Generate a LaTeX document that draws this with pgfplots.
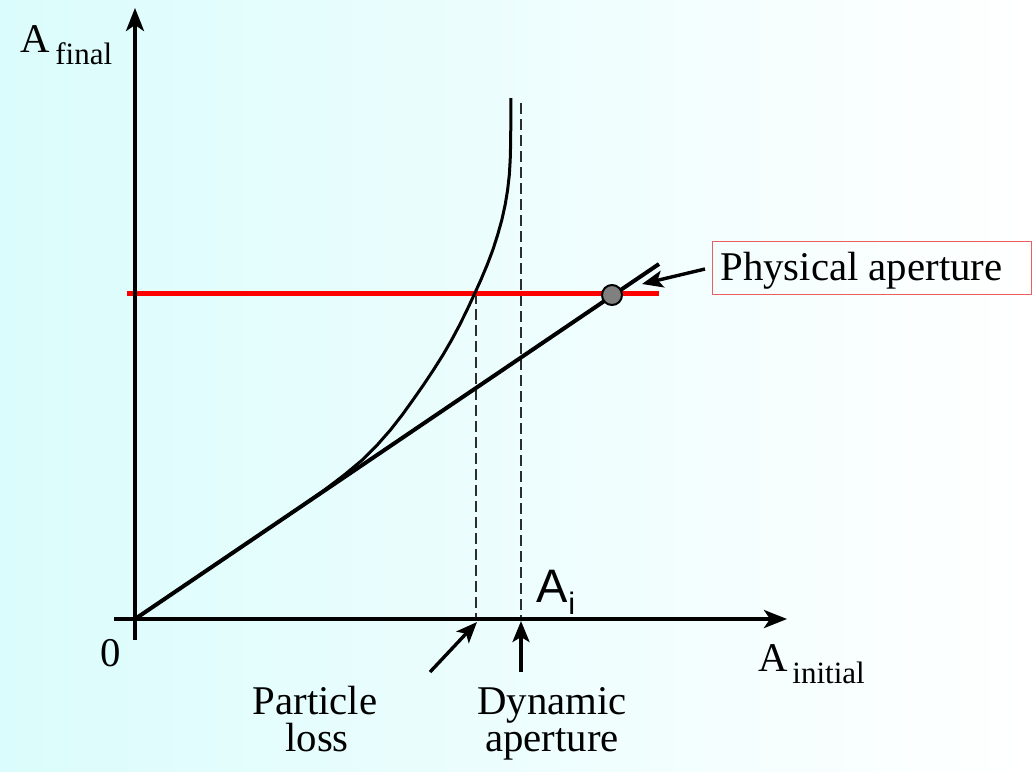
\documentclass[border=0pt]{standalone}
\usepackage{pgfplots}
\pgfplotsset{compat=1.18}
\usetikzlibrary{arrows.meta}
\usepackage{fontspec}
\setmainfont{Liberation Serif}
\newfontfamily\arial{Liberation Sans}
\definecolor{bgleft}{RGB}{219,252,252}
\definecolor{boxred}{RGB}{235,95,95}
\definecolor{dashgray}{RGB}{45,45,45}
\newcommand{\bigtxt}{\fontsize{20.4}{24}\selectfont}
\newcommand{\subtxt}{\fontsize{15.5}{18}\selectfont}
\begin{document}
\begin{tikzpicture}
\fill[left color=bgleft, right color=white] (0,0) rectangle (516pt,385.5pt);
\begin{axis}[at={(0,0)}, anchor=south west,
  width=516pt, height=385.5pt, scale only axis,
  xmin=0, xmax=1032, ymin=0, ymax=771, y dir=reverse,
  hide axis, clip=false]
% dashed lines
\addplot[dashgray, line width=1.4pt, dash pattern=on 5.5pt off 2.5pt] coordinates {(476,293) (476,619)};
\addplot[dashgray, line width=1.4pt, dash pattern=on 5.5pt off 2.5pt] coordinates {(521,103) (521,619)};
% red physical aperture line
\addplot[red, line width=2.25pt] coordinates {(127,293.5) (659,293.5)};
% curve
\addplot[black, line width=1.5pt, line join=round] coordinates {
(303,505) (324.5,490) (344.2,475) (362.2,460) (377.2,445) (390.4,430) (402.1,415)
(412.9,400) (423.4,385) (433.4,370) (442.9,355) (451.6,340) (459.6,325) (467.0,310)
(474.0,295) (480.8,280) (487.1,265) (492.8,250) (497.6,235) (501.8,220) (505.1,205)
(507.6,190) (509.3,175) (510.2,160) (510.6,145) (510.75,130) (510.8,98)};
% linear
\addplot[black, line width=2pt] coordinates {(135,619) (659,264)};
% circle
\addplot[only marks, mark=*, mark size=5pt, mark options={fill=gray, draw=black, line width=1pt}] coordinates {(612,295)};
% axes
\draw[black, line width=2pt, -{Stealth[length=11.5pt,width=9pt,inset=3pt]}] (axis cs:135,640) -- (axis cs:135,8);
\draw[black, line width=2pt, -{Stealth[length=11.5pt,width=9pt,inset=3pt]}] (axis cs:114,619) -- (axis cs:787,619);
% annotation arrows
\draw[black, line width=1.7pt, -{Stealth[length=10.5pt,width=8.5pt,inset=2.5pt]}] (axis cs:430,672) -- (axis cs:477,622);
\draw[black, line width=1.7pt, -{Stealth[length=10.5pt,width=8.5pt,inset=2.5pt]}] (axis cs:521,672) -- (axis cs:521,621);
\draw[black, line width=1.7pt, -{Stealth[length=10.5pt,width=8.5pt,inset=2.5pt]}] (axis cs:705,269) -- (axis cs:642,284);
% box
\draw[boxred, line width=0.5pt] (axis cs:712,241) rectangle (axis cs:1031,294);
% texts
\node[anchor=base west, inner sep=0] at (axis cs:720,280) {\bigtxt Physical aperture};
\node[anchor=base west, inner sep=0] at (axis cs:20,52) {\bigtxt A};
\node[anchor=base west, inner sep=0] at (axis cs:55,64) {\subtxt final};
\node[anchor=base west, inner sep=0] at (axis cs:758,671) {\bigtxt A};
\node[anchor=base west, inner sep=0] at (axis cs:792,683) {\subtxt initial};
\node[anchor=base west, inner sep=0] at (axis cs:100,666) {\bigtxt 0};
\node[anchor=base, inner sep=0] at (axis cs:315,714) {\bigtxt Particle};
\node[anchor=base, inner sep=0] at (axis cs:317,751) {\bigtxt loss};
\node[anchor=base, inner sep=0] at (axis cs:552,714) {\bigtxt Dynamic};
\node[anchor=base, inner sep=0] at (axis cs:552,751) {\bigtxt aperture};
\node[anchor=base west, inner sep=0] at (axis cs:536,602) {\arial\fontsize{23.5}{27}\selectfont A};
\node[anchor=base west, inner sep=0] at (axis cs:568,614) {\arial\fontsize{15.5}{18}\selectfont i};
\end{axis}
\end{tikzpicture}
\end{document}
